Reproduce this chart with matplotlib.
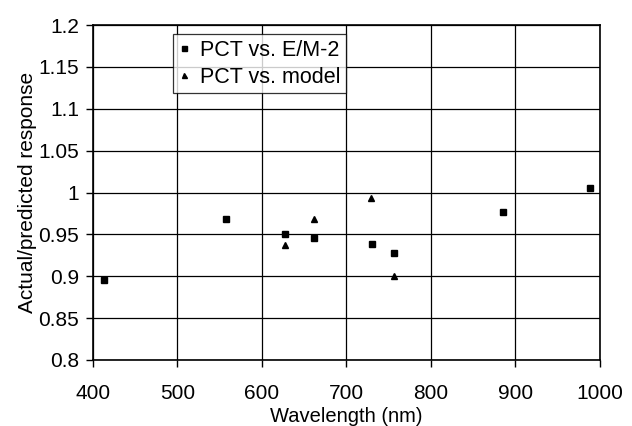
import matplotlib.pyplot as plt

plt.rcParams['font.family'] = ['Liberation Sans', 'DejaVu Sans']

# PCT vs. E/M-2
wl_em = [413, 558, 627, 662, 730, 756, 886, 988]
r_em = [0.895, 0.968, 0.950, 0.946, 0.938, 0.928, 0.977, 1.006]

# PCT vs. model
wl_mod = [627, 662, 729, 756]
r_mod = [0.937, 0.968, 0.994, 0.900]

xticks = [400, 500, 600, 700, 800, 900, 1000]
yticks = [0.8, 0.85, 0.9, 0.95, 1.0, 1.05, 1.1, 1.15, 1.2]
ylabels = ['0.8', '0.85', '0.9', '0.95', '1', '1.05', '1.1', '1.15', '1.2']

fig = plt.figure(figsize=(6.32, 4.26), dpi=100)
ax = fig.add_axes([0.147, 0.155, 0.802, 0.786])

ax.plot(wl_em, r_em, 's', color='black', markersize=4.5, label='PCT vs. E/M-2', zorder=3)
ax.plot(wl_mod, r_mod, '^', color='black', markersize=4.5, label='PCT vs. model', zorder=3)

ax.set_xlim(400, 1000)
ax.set_ylim(0.8, 1.2)
ax.set_xticks(xticks)
ax.set_yticks(yticks)
ax.set_yticklabels(ylabels)
ax.tick_params(labelsize=15, length=5, width=1, direction='out')
ax.tick_params(axis='x', pad=12)
ax.tick_params(axis='y', pad=5)
ax.grid(True, color='black', linewidth=0.9)
ax.set_axisbelow(True)
for s in ax.spines.values():
    s.set_linewidth(1.2)

ax.set_xlabel('Wavelength (nm)', fontsize=14.5, labelpad=3)
ax.set_ylabel('Actual/predicted response', fontsize=15, labelpad=1)

leg = ax.legend(loc='upper left', bbox_to_anchor=(0.158, 0.973), fontsize=15.5,
                frameon=True, fancybox=False, handlelength=0.5, handletextpad=0.5,
                borderpad=0.25, labelspacing=0.3, markerscale=0.8, borderaxespad=0)
leg.get_frame().set_edgecolor('black')
leg.get_frame().set_linewidth(0.9)

fig.savefig('out.png', dpi=100)
